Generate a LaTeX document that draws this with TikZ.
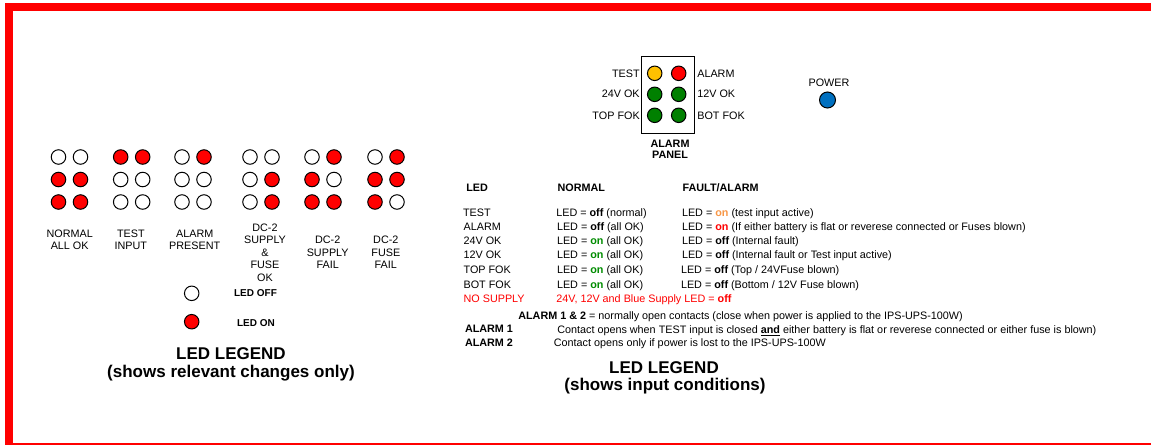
\documentclass[tikz,border=0pt]{standalone}
\usepackage{fontspec}
\setmainfont{Liberation Sans}
\usepackage{tikz}
\usetikzlibrary{positioning}

\definecolor{ledred}{RGB}{255,0,0}
\definecolor{ledamber}{RGB}{255,192,0}
\definecolor{ledgreen}{RGB}{0,128,0}
\definecolor{ledblue}{RGB}{0,112,192}
\definecolor{onorange}{RGB}{247,150,70}
\definecolor{ongreen}{RGB}{0,140,0}

\tikzset{led/.style={draw,circle,line width=1pt,minimum size=14.5pt,inner sep=0pt,fill=#1},
  led/.default=white,
  txt/.style={inner sep=0pt,font=\fontsize{10.8}{12.5}\selectfont},
  boldtxt/.style={inner sep=0pt,font=\fontsize{10.8}{12.5}\selectfont\bfseries},
  cell/.style={txt,anchor=base west},
  caption/.style={txt,align=center,anchor=north},
  bigtxt/.style={inner sep=0pt,font=\fontsize{17}{19}\selectfont\bfseries,anchor=base}}

\begin{document}
\begin{tikzpicture}[x=1pt, y=-1pt, on grid, node distance=22.5pt and 22pt, semithick]
\useasboundingbox (0,0) rectangle (1151,445);

% Cornice
\fill[ledred] (5,3) rectangle (1151,11);
\fill[ledred] (5,3) rectangle (13,445);
\fill[ledred] (5,443) rectangle (1151,444.7);

% Pannello allarmi
\node[draw, line width=1pt, minimum width=53pt, minimum height=77pt, inner sep=0pt] (PanelBox) at (667.5,94.5) {};
\node[led=ledamber] (PanelTest) at (654.7,73.3) {};
\node[led=ledred, right=24pt of PanelTest] (PanelAlarm) {};
\node[led=ledgreen, below=21pt of PanelTest] (PanelTwentyFour) {};
\node[led=ledgreen, right=24pt of PanelTwentyFour] (PanelTwelve) {};
\node[led=ledgreen, below=21pt of PanelTwentyFour] (PanelTopFok) {};
\node[led=ledgreen, right=24pt of PanelTopFok] (PanelBotFok) {};
\node[txt, anchor=base east] (TestLabel) at (640,77.2) {TEST};
\node[txt, anchor=base east] (TwentyFourLabel) at (640,97.8) {24V OK};
\node[txt, anchor=base east] (TopFokLabel) at (640,119.2) {TOP FOK};
\node[txt, anchor=base west] (AlarmLabel) at (697,77.2) {ALARM};
\node[txt, anchor=base west] (TwelveLabel) at (697,97.8) {12V OK};
\node[txt, anchor=base west] (BotFokLabel) at (697,119.2) {BOT FOK};
\node[caption, font=\fontsize{10.8}{11}\selectfont\bfseries] (PanelName) at (670,139.8) {ALARM\\PANEL};
\node[txt, anchor=base] (PowerLabel) at (829,86.5) {POWER};
\node[led=ledblue, minimum size=16pt] (PowerLed) at (827.5,100) {};

% Legenda LED (cambiamenti)
\node[led] (Normal11) at (58.5,157) {};
\node[led, right=of Normal11] (Normal12) {};
\node[led=ledred, below=of Normal11] (Normal21) {};
\node[led=ledred, right=of Normal21] (Normal22) {};
\node[led=ledred, below=of Normal21] (Normal31) {};
\node[led=ledred, right=of Normal31] (Normal32) {};

\node[led=ledred] (TestInput11) at (120.7,157) {};
\node[led=ledred, right=of TestInput11] (TestInput12) {};
\node[led, below=of TestInput11] (TestInput21) {};
\node[led, right=of TestInput21] (TestInput22) {};
\node[led, below=of TestInput21] (TestInput31) {};
\node[led, right=of TestInput31] (TestInput32) {};

\node[led] (AlarmPresent11) at (182,157) {};
\node[led=ledred, right=of AlarmPresent11] (AlarmPresent12) {};
\node[led, below=of AlarmPresent11] (AlarmPresent21) {};
\node[led, right=of AlarmPresent21] (AlarmPresent22) {};
\node[led, below=of AlarmPresent21] (AlarmPresent31) {};
\node[led, right=of AlarmPresent31] (AlarmPresent32) {};

\node[led] (SupplyOk11) at (250,157) {};
\node[led, right=of SupplyOk11] (SupplyOk12) {};
\node[led, below=of SupplyOk11] (SupplyOk21) {};
\node[led=ledred, right=of SupplyOk21] (SupplyOk22) {};
\node[led, below=of SupplyOk21] (SupplyOk31) {};
\node[led=ledred, right=of SupplyOk31] (SupplyOk32) {};

\node[led] (SupplyFail11) at (312,157) {};
\node[led=ledred, right=of SupplyFail11] (SupplyFail12) {};
\node[led=ledred, below=of SupplyFail11] (SupplyFail21) {};
\node[led, right=of SupplyFail21] (SupplyFail22) {};
\node[led=ledred, below=of SupplyFail21] (SupplyFail31) {};
\node[led=ledred, right=of SupplyFail31] (SupplyFail32) {};

\node[led] (FuseFail11) at (375,157) {};
\node[led=ledred, right=of FuseFail11] (FuseFail12) {};
\node[led=ledred, below=of FuseFail11] (FuseFail21) {};
\node[led=ledred, right=of FuseFail21] (FuseFail22) {};
\node[led=ledred, below=of FuseFail21] (FuseFail31) {};
\node[led, right=of FuseFail31] (FuseFail32) {};

\node[caption] (NormalText) at (69.7,229.4) {NORMAL\\ALL OK};
\node[caption] (TestInputText) at (130.8,229.4) {TEST\\INPUT};
\node[caption] (AlarmPresentText) at (194.7,229.4) {ALARM\\PRESENT};
\node[caption] (SupplyOkText) at (265,223.4) {DC-2\\SUPPLY\\\&\\FUSE\\OK};
\node[caption] (SupplyFailText) at (327.7,236.1) {DC-2\\SUPPLY\\FAIL};
\node[caption] (FuseFailText) at (385.8,236.1) {DC-2\\FUSE\\FAIL};

\node[led] (LedOff) at (191.7,293.3) {};
\node[led=ledred] (LedOn) at (191.7,321.7) {};
\node[boldtxt, anchor=base, font=\fontsize{10}{12}\selectfont\bfseries] (LedOffText) at (255.5,296.9) {LED OFF};
\node[boldtxt, anchor=base, font=\fontsize{10}{12}\selectfont\bfseries] (LedOnText) at (256,326.9) {LED ON};
\node[bigtxt] (LegendLeft) at (231,359.3) {LED LEGEND};
\node[bigtxt] (LegendLeftSub) at (231,377) {(shows relevant changes only)};

% Legenda LED (ingressi)
\node[boldtxt, anchor=base west] (HeadLed) at (466,191.8) {LED};
\node[boldtxt, anchor=base west] (HeadNormal) at (557.3,191.8) {NORMAL};
\node[boldtxt, anchor=base west] (HeadFault) at (682.3,191.8) {FAULT/ALARM};

\node[cell] (RowTest) at (462.7,216.5) {TEST};
\node[cell] (RowTestNormal) at (556,216.5) {LED = \textbf{off} (normal)};
\node[cell] (RowTestFault) at (681.7,216.5) {LED = {\color{onorange}\textbf{on}} (test input active)};
\node[cell] (RowAlarm) at (463.3,230.5) {ALARM};
\node[cell] (RowAlarmNormal) at (556.7,230.5) {LED = \textbf{off} (all OK)};
\node[cell] (RowAlarmFault) at (681.7,230.5) {LED = {\color{ledred}\textbf{on}} (If either battery is flat or reverese connected or Fuses blown)};
\node[cell] (RowTwentyFour) at (463.3,244.8) {24V OK};
\node[cell] (RowTwentyFourNormal) at (556.7,244.8) {LED = {\color{ongreen}\textbf{on}} (all OK)};
\node[cell] (RowTwentyFourFault) at (681.7,244.8) {LED = \textbf{off} (Internal fault)};
\node[cell] (RowTwelve) at (463.3,258.8) {12V OK};
\node[cell] (RowTwelveNormal) at (556.7,258.8) {LED = {\color{ongreen}\textbf{on}} (all OK)};
\node[cell] (RowTwelveFault) at (681.7,258.8) {LED = \textbf{off} (Internal fault or Test input active)};
\node[cell] (RowTopFok) at (463.3,273.8) {TOP FOK};
\node[cell] (RowTopFokNormal) at (556.7,273.8) {LED = {\color{ongreen}\textbf{on}} (all OK)};
\node[cell] (RowTopFokFault) at (680.7,273.8) {LED = \textbf{off} (Top / 24VFuse blown)};
\node[cell] (RowBotFok) at (463.3,288.1) {BOT FOK};
\node[cell] (RowBotFokNormal) at (556.7,288.1) {LED = {\color{ongreen}\textbf{on}} (all OK)};
\node[cell] (RowBotFokFault) at (680.7,288.1) {LED = \textbf{off} (Bottom / 12V Fuse blown)};
\node[cell, text=ledred] (RowNoSupply) at (463.3,302.8) {NO SUPPLY};
\node[cell, text=ledred] (RowNoSupplyText) at (556,302.8) {24V, 12V and Blue Supply LED = \textbf{off}};

\node[cell] (AlarmNote) at (518,319.5) {\textbf{ALARM 1 \& 2} = normally open contacts (close when power is applied to the IPS-UPS-100W)};
\node[boldtxt, anchor=base west] (AlarmOne) at (464.7,332.1) {ALARM 1};
\node[cell] (AlarmOneText) at (557,333.8) {Contact opens when TEST input is closed \underline{\textbf{and}} either battery is flat or reverese connected or either fuse is blown)};
\node[boldtxt, anchor=base west] (AlarmTwo) at (464.7,346.5) {ALARM 2};
\node[cell] (AlarmTwoText) at (553.6,346.8) {Contact opens only if power is lost to the IPS-UPS-100W};
\node[bigtxt] (LegendRight) at (664,373.3) {LED LEGEND};
\node[bigtxt] (LegendRightSub) at (665,390.4) {(shows input conditions)};

\end{tikzpicture}
\end{document}
